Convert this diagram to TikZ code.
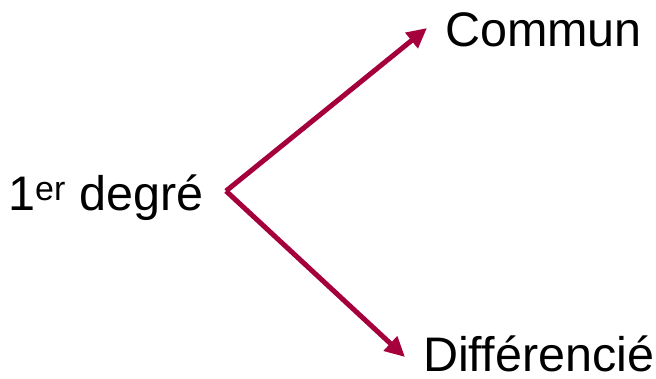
\documentclass[tikz,border=0pt]{standalone}
\usepackage{fontspec}
\setmainfont{Liberation Sans}
\usepackage{xcolor}
\usetikzlibrary{arrows.meta,positioning}
\definecolor{crimson}{RGB}{165,0,60}

\begin{document}
\begin{tikzpicture}[
  x=1pt, y=-1pt,
  lbl/.style={inner sep=0pt, font=\fontsize{48.5}{58}\selectfont},
  arr/.style={-{Triangle[length=20pt, width=19pt]}, line width=5pt, draw=crimson},
]
\useasboundingbox (0,0) rectangle (656,378);
\node[lbl, anchor=base west] (deg) at (8,210) {1\textsuperscript{er} degré};
\node[lbl, anchor=base west] (commun) at (445,46) {Commun};
\node[lbl, anchor=base west] (diff) at (423,371) {Différencié};
\coordinate (fork) at (226,191);
\coordinate (tipC) at (427,28);
\coordinate (tipD) at (405,357);
\draw[arr] (fork) -- (tipC);
\draw[arr] (fork) -- (tipD);
\end{tikzpicture}
\end{document}
